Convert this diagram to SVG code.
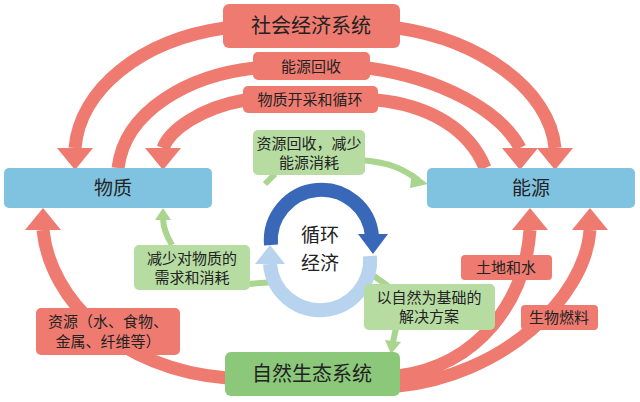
<svg xmlns="http://www.w3.org/2000/svg" width="640" height="402" viewBox="0 0 640 402">
<style>
text{font-family:"Noto Sans CJK SC","Noto Sans",sans-serif;fill:#222;text-anchor:middle}
.ra{fill:none;stroke:#ef7b70;stroke-width:13}
.rh{fill:#ef7b70}
.ga{fill:none;stroke:#a9d58f;stroke-width:6}
.gh{fill:#a9d58f}
.red{fill:#ef7b70}
.blue{fill:#80c3e0}
.gl{fill:#b6dca2}
</style>
<rect width="640" height="402" fill="#fff"/>
<g id="connectors">
<path class="ra" d="M225,28 C140,40 80,90 75,148"/><polygon class="rh" points="57,148 93,148 75,170"/>
<path class="ra" d="M398,28 C480,40 550,90 555,148"/><polygon class="rh" points="537,148 573,148 555,170"/>
<path class="ra" d="M118,168 C125,110 190,75 255,68"/>
<path class="ra" d="M368,68 C440,78 500,110 520,148"/><polygon class="rh" points="502,148 538,148 520,170"/>
<path class="ra" d="M485,168 C470,130 430,105 376,100"/>
<path class="ra" d="M245,100 C200,108 170,130 163,148"/><polygon class="rh" points="145,148 181,148 163,170"/>
<path class="ra" d="M227,378 C120,370 50,300 43,230"/><polygon class="rh" points="25,230 61,230 43,208"/>
<path class="ra" d="M398,376 C480,365 525,300 530,230"/><polygon class="rh" points="512,230 548,230 530,208"/>
<path class="ra" d="M398,386 C500,376 585,300 590,230"/><polygon class="rh" points="572,230 608,230 590,208"/>
<path class="ga" d="M360,160 C390,162 405,170 418,180"/><polygon class="gh" points="412,172 428,184 410,188"/>
<path class="ga" d="M275,174 L265,184"/>
<path class="ga" d="M172,245 C166,235 163,225 163,218"/><polygon class="gh" points="155,220 171,220 163,208"/>
<path class="ga" d="M248,284 L275,282"/>
<path class="ga" d="M374,276 L388,286"/>
<path class="ga" d="M396,328 L393,342"/><polygon class="gh" points="385,340 401,342 391,354"/>
</g>
<g id="cycle">
<path d="M271,245 A50,50 0 0 1 372,236" fill="none" stroke="#3a68b8" stroke-width="14"/>
<polygon points="358,234 388,234 373,254" fill="#3a68b8"/>
<path d="M370,256 A50,50 0 0 1 270,264" fill="none" stroke="#b8d3ee" stroke-width="14"/>
<polygon points="255,264 285,264 270,245" fill="#b8d3ee"/>
<text x="320" y="242" font-size="19">循环</text>
<text x="320" y="270" font-size="19">经济</text>
</g>
<g id="shehui"><rect class="red" x="223" y="4" width="177" height="44" rx="6"/><text x="311" y="33" font-size="20">社会经济系统</text></g>
<g id="nengyuanhuishou"><rect class="red" x="253" y="52" width="117" height="28" rx="5"/><text x="311" y="72" font-size="15">能源回收</text></g>
<g id="wuzhikaicai"><rect class="red" x="243" y="86" width="135" height="27" rx="5"/><text x="310" y="105" font-size="15">物质开采和循环</text></g>
<g id="wuzhi"><rect class="blue" x="4" y="168" width="208" height="40" rx="5"/><text x="113" y="195" font-size="19">物质</text></g>
<g id="nengyuan"><rect class="blue" x="427" y="168" width="208" height="40" rx="5"/><text x="531" y="195" font-size="19">能源</text></g>
<g id="ziyuanhuishou"><rect class="gl" x="253" y="130" width="112" height="45" rx="5"/><text x="309" y="149" font-size="15">资源回收，减少</text><text x="309" y="168" font-size="15">能源消耗</text></g>
<g id="jianshao"><rect class="gl" x="134" y="245" width="116" height="45" rx="5"/><text x="192" y="264" font-size="15">减少对物质的</text><text x="192" y="283" font-size="15">需求和消耗</text></g>
<g id="yiziran"><rect class="gl" x="364" y="284" width="131" height="46" rx="5"/><text x="429" y="303" font-size="15">以自然为基础的</text><text x="429" y="322" font-size="15">解决方案</text></g>
<g id="ziyuan"><rect class="red" x="36" y="308" width="144" height="47" rx="5"/><text x="108" y="327" font-size="15">资源（水、食物、</text><text x="108" y="347" font-size="15">金属、纤维等）</text></g>
<g id="tudi"><rect class="red" x="461" y="255" width="91" height="25" rx="4"/><text x="506" y="273" font-size="15">土地和水</text></g>
<g id="shengwu"><rect class="red" x="521" y="305" width="77" height="25" rx="4"/><text x="559" y="323" font-size="15">生物燃料</text></g>
<g id="ziran"><rect fill="#8cc87a" x="225" y="352" width="175" height="44" rx="6"/><text x="312" y="381" font-size="20">自然生态系统</text></g>
</svg>
